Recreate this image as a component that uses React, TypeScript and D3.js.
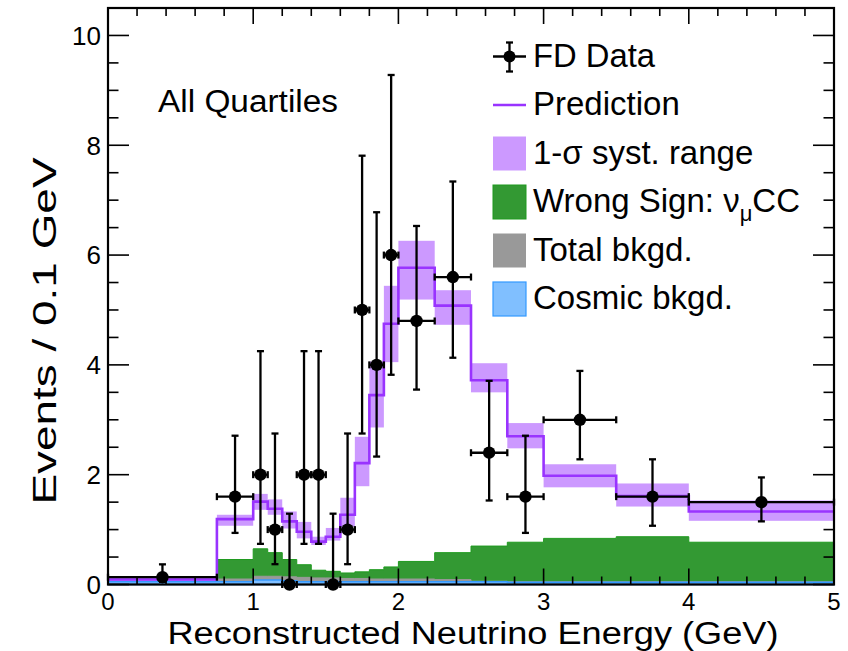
import React from "react";
import * as d3 from "d3";

// Variable-width energy bins (GeV)
const binEdges = [0, 0.75, 1.0, 1.1, 1.2, 1.3, 1.4, 1.5, 1.6, 1.7, 1.8, 1.9, 2.0, 2.25, 2.5, 2.75, 3.0, 3.5, 4.0, 5.0];

// FD data (events / 0.1 GeV) with Feldman-Cousins style 1-sigma intervals
const dataValues = [0.133, 1.6, 2, 1, 0, 2, 2, 0, 1, 5, 4, 6, 4.8, 5.6, 2.4, 1.6, 3.0, 1.6, 1.5];
const dataLow = [0.049, 0.94, 0.74, 0.37, 0, 0.74, 0.74, 0, 0.37, 2.75, 2.33, 3.82, 3.55, 4.13, 1.53, 0.94, 2.28, 1.07, 1.15];
const dataHigh = [0.367, 2.71, 4.25, 2.75, 1.29, 4.25, 4.25, 1.29, 2.75, 7.81, 6.78, 9.28, 6.53, 7.34, 3.71, 2.71, 3.89, 2.28, 1.95];

// Prediction and its 1-sigma systematic range
const prediction = [0.09, 1.19, 1.51, 1.38, 1.15, 0.96, 0.78, 0.87, 1.27, 2.21, 3.45, 4.75, 5.77, 5.08, 3.72, 2.70, 1.98, 1.61, 1.33];
const systLow = [0.06, 1.07, 1.36, 1.27, 1.02, 0.84, 0.72, 0.80, 1.05, 1.79, 2.86, 4.05, 5.19, 4.73, 3.50, 2.48, 1.77, 1.42, 1.16];
const systHigh = [0.12, 1.27, 1.65, 1.55, 1.33, 1.14, 0.87, 1.03, 1.58, 2.69, 4.06, 5.44, 6.26, 5.36, 4.03, 2.94, 2.19, 1.84, 1.53];

// Backgrounds
const totalBkgd = [0.05, 0.10, 0.15, 0.15, 0.14, 0.13, 0.12, 0.12, 0.11, 0.11, 0.10, 0.10, 0.10, 0.09, 0.06, 0.05, 0.05, 0.05, 0.05];
const cosmicBkgd = [0.05, 0.05, 0.08, 0.08, 0.07, 0.05, 0.05, 0.05, 0.05, 0.05, 0.05, 0.05, 0.05, 0.05, 0.05, 0.04, 0.04, 0.04, 0.04];
const wrongSign = [0, 0.355, 0.50, 0.43, 0.315, 0.23, 0.14, 0.12, 0.10, 0.12, 0.17, 0.22, 0.32, 0.49, 0.64, 0.72, 0.79, 0.82, 0.72];

const xTickLabels = ["0", "1", "2", "3", "4", "5"];
const yTickLabels = ["0", "2", "4", "6", "8", "10"];

const legendLabels = ["FD Data", "Prediction", "1-\u03c3 syst. range", "Wrong Sign: ", "Total bkgd.", "Cosmic bkgd."];

const W = 848;
const H = 651;
const FONT = "'Liberation Sans', Arial, Helvetica, sans-serif";

const C_LINE = "#9933ff";
const C_BAND = "#cc99ff";
const C_GREEN = "#339933";
const C_GREEN_EDGE = "#1f9a1f";
const C_GRAY = "#999999";
const C_BLUE = "#80bfff";
const C_BLUE_EDGE = "#3399ff";

export default function App() {
  const x = d3.scaleLinear().domain([0, 5]).range([108, 834]);
  const y = d3.scaleLinear().domain([0, 10.5]).range([584.5, 8]);

  const nb = prediction.length;
  const idx = d3.range(nb);

  const stepPts = (vals: number[]) => {
    const pts: [number, number][] = idx.map((i) => [binEdges[i], vals[i]]);
    pts.push([binEdges[nb], vals[nb - 1]]);
    return pts;
  };

  const stepLine = d3
    .line<[number, number]>()
    .x((d) => x(d[0]))
    .y((d) => y(d[1]))
    .curve(d3.curveStepAfter);

  const stepArea = d3
    .area<[number, number]>()
    .x((d) => x(d[0]))
    .y0(y(0))
    .y1((d) => y(d[1]))
    .curve(d3.curveStepAfter);

  const greenTop = idx.map((i) => totalBkgd[i] + wrongSign[i]);

  const xMinor = d3.range(0, 5.0001, 0.2);
  const xMajor = x.ticks(5);
  const yMinor = d3.range(0, 10.5001, 0.5);
  const yMajor = d3.range(0, 10.0001, 2);

  const x0 = x(0), x1 = x(5), yb = y(0), yt = y(10.5);

  const legendX = 493;
  const legendTextX = 533;
  const rowY = (k: number) => 56.5 + k * 48.5;

  return (
    <svg
      width={W}
      height={H}
      viewBox={`0 0 ${W} ${H}`}
      style={{ position: "absolute", left: 0, top: 0, background: "#fff" }}
      fontFamily={FONT}
    >
      <rect x={0} y={0} width={W} height={H} fill="#fff" />

      {/* systematic band */}
      {idx.map((i) => (
        <rect
          key={"band" + i}
          x={x(binEdges[i])}
          y={y(systHigh[i])}
          width={x(binEdges[i + 1]) - x(binEdges[i])}
          height={y(systLow[i]) - y(systHigh[i])}
          fill={C_BAND}
        />
      ))}

      {/* background stack */}
      <path d={stepArea(stepPts(greenTop)) || ""} fill={C_GREEN} stroke={C_GREEN_EDGE} strokeWidth={1} />
      <path d={stepArea(stepPts(totalBkgd)) || ""} fill={C_GRAY} stroke={C_GRAY} strokeWidth={1} />
      <path d={stepArea(stepPts(cosmicBkgd)) || ""} fill={C_BLUE} stroke={C_BLUE_EDGE} strokeWidth={1.5} />

      {/* prediction */}
      <path d={stepLine(stepPts(prediction)) || ""} fill="none" stroke={C_LINE} strokeWidth={2.6} />

      {/* data points */}
      {idx.map((i) => {
        const cx = x((binEdges[i] + binEdges[i + 1]) / 2);
        const cy = y(dataValues[i]);
        const xl = x(binEdges[i]);
        const xr = x(binEdges[i + 1]);
        const yl = y(dataLow[i]);
        const yh = y(dataHigh[i]);
        return (
          <g key={"pt" + i} stroke="#000" strokeWidth={2.3}>
            <line x1={xl} x2={xr} y1={cy} y2={cy} />
            <line x1={xl} x2={xl} y1={cy - 3.5} y2={cy + 3.5} />
            <line x1={xr} x2={xr} y1={cy - 3.5} y2={cy + 3.5} />
            <line x1={cx} x2={cx} y1={yl} y2={yh} />
            <line x1={cx - 3.5} x2={cx + 3.5} y1={yh} y2={yh} />
            {dataLow[i] > 0 && <line x1={cx - 3.5} x2={cx + 3.5} y1={yl} y2={yl} />}
            <circle cx={cx} cy={cy} r={6.2} fill="#000" stroke="none" />
          </g>
        );
      })}

      {/* frame and ticks */}
      <g stroke="#000" strokeWidth={1.6}>
        {xMinor.map((v, k) => {
          const major = Math.abs(v - Math.round(v)) < 1e-6;
          const len = major ? 16 : 8;
          return (
            <g key={"xt" + k}>
              <line x1={x(v)} x2={x(v)} y1={yb} y2={yb - len} />
              <line x1={x(v)} x2={x(v)} y1={yt} y2={yt + len} />
            </g>
          );
        })}
        {yMinor.map((v, k) => {
          const major = Math.abs(v / 2 - Math.round(v / 2)) < 1e-6;
          const len = major ? 21 : 10.5;
          return (
            <g key={"yt" + k}>
              <line x1={x0} x2={x0 + len} y1={y(v)} y2={y(v)} />
              <line x1={x1} x2={x1 - len} y1={y(v)} y2={y(v)} />
            </g>
          );
        })}
      </g>
      <rect x={x0} y={yt} width={x1 - x0} height={yb - yt} fill="none" stroke="#000" strokeWidth={2.2} />

      {/* tick labels */}
      <g fill="#000">
        {xMajor.map((v, k) => (
          <text key={"xl" + k} x={x(v)} y={610} fontSize={24} textAnchor="middle">
            {xTickLabels[k]}
          </text>
        ))}
        {yMajor.map((v, k) => (
          <text key={"yl" + k} x={101} y={y(v)} dy="0.36em" fontSize={26} textAnchor="end">
            {yTickLabels[k]}
          </text>
        ))}
      </g>

      {/* axis titles */}
      <text x={473} y={644} fontSize={31} textAnchor="middle" textLength={611} lengthAdjust="spacingAndGlyphs">
        Reconstructed Neutrino Energy (GeV)
      </text>
      <text
        transform={`translate(56,331) rotate(-90)`}
        fontSize={34}
        textAnchor="middle"
        textLength={347}
        lengthAdjust="spacingAndGlyphs"
      >
        Events / 0.1 GeV
      </text>

      <text x={158} y={112} fontSize={31} textLength={180} lengthAdjust="spacingAndGlyphs">
        All Quartiles
      </text>

      {/* legend */}
      <g fontSize={33}>
        {/* FD data */}
        <g stroke="#000" strokeWidth={2.3}>
          <line x1={legendX} x2={legendX + 33} y1={rowY(0)} y2={rowY(0)} />
          <line x1={legendX + 16.5} x2={legendX + 16.5} y1={rowY(0) - 14} y2={rowY(0) + 15} />
          <line x1={legendX + 13} x2={legendX + 20} y1={rowY(0) - 14} y2={rowY(0) - 14} />
          <line x1={legendX + 13} x2={legendX + 20} y1={rowY(0) + 15} y2={rowY(0) + 15} />
          <circle cx={legendX + 16.5} cy={rowY(0)} r={6} fill="#000" stroke="none" />
        </g>
        <text x={legendTextX} y={rowY(0) + 10} textLength={122} lengthAdjust="spacingAndGlyphs">{legendLabels[0]}</text>

        {/* Prediction */}
        <line x1={legendX} x2={legendX + 33} y1={rowY(1)} y2={rowY(1)} stroke={C_LINE} strokeWidth={2.6} />
        <text x={legendTextX} y={rowY(1) + 10}>{legendLabels[1]}</text>

        {/* band */}
        <rect x={legendX} y={rowY(2) - 17} width={33} height={34} fill={C_BAND} />
        <text x={legendTextX} y={rowY(2) + 10}>{legendLabels[2]}</text>

        {/* wrong sign */}
        <rect x={legendX} y={rowY(3) - 17} width={33} height={34} fill={C_GREEN} stroke={C_GREEN_EDGE} strokeWidth={1} />
        <text x={legendTextX} y={rowY(3) + 10}>
          {legendLabels[3]}
          <tspan>{"\u03bd"}</tspan>
          <tspan fontSize={22} dy={9}>{"\u03bc"}</tspan>
          <tspan dy={-9}>CC</tspan>
        </text>

        {/* total bkgd */}
        <rect x={legendX} y={rowY(4) - 17} width={33} height={34} fill={C_GRAY} />
        <text x={legendTextX} y={rowY(4) + 10}>{legendLabels[4]}</text>

        {/* cosmic */}
        <rect x={legendX} y={rowY(5) - 17} width={33} height={34} fill={C_BLUE} stroke={C_BLUE_EDGE} strokeWidth={1.2} />
        <text x={legendTextX} y={rowY(5) + 10}>{legendLabels[5]}</text>
      </g>
    </svg>
  );
}
